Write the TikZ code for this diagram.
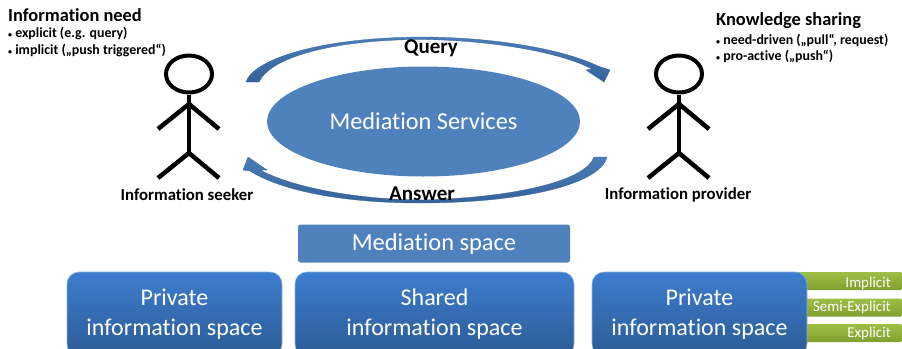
\documentclass[tikz,border=0pt]{standalone}
\usepackage{fontspec}
\setmainfont[Ligatures=NoCommon]{Carlito}
\usetikzlibrary{shapes.geometric}
\definecolor{mediationblue}{HTML}{4F81BD}
\definecolor{spacetop}{HTML}{3D7DCE}
\definecolor{spacebot}{HTML}{2C5B96}
\definecolor{greentop}{HTML}{9DBF45}
\definecolor{greenbot}{HTML}{7FA02E}
\definecolor{arrowtop}{HTML}{4A7DB8}
\definecolor{arrowbot}{HTML}{35639A}
\newcommand{\smallbullet}{{\fontsize{8}{8}\selectfont•}}
\tikzset{
	spacebox/.style={draw=spacetop!60!white, line width=0.6pt, rounded corners=12pt, top color=spacetop, bottom color=spacebot, text=white, minimum width=215pt, minimum height=84pt, align=center, font=\fontsize{24}{30.5}\selectfont, inner sep=0pt},
	levelbar/.style={rounded corners=1.5pt, top color=greentop, bottom color=greenbot, minimum width=145pt, minimum height=18pt, inner sep=0pt},
	levellabel/.style={anchor=east, text=white, font=\fontsize{15}{17}\selectfont, inner sep=0pt},
	headline/.style={anchor=west, font=\fontsize{18.4}{20}\selectfont\bfseries, inner sep=0pt},
	bulletline/.style={anchor=west, font=\fontsize{13.9}{15}\selectfont\bfseries, inner sep=0pt},
	rolelabel/.style={font=\fontsize{16.8}{18}\selectfont\bfseries, inner sep=0pt},
	flowlabel/.style={font=\fontsize{21}{23}\selectfont\bfseries, inner sep=0pt},
	flowband/.style={top color=arrowtop, bottom color=arrowbot, draw=arrowbot, line width=0.3pt},
	stickhead/.style={ellipse, draw, line width=4pt, minimum width=46pt, minimum height=37pt, inner sep=0pt},
	stick/.style={line width=4.5pt, line cap=butt, line join=miter}
}
\begin{document}
\begin{tikzpicture}[x=1pt, y=-1pt, line join=round]
	\useasboundingbox (0,0) rectangle (902,348);
	\node[levelbar] (implicitbar) at (829.5,281){};
	\node[levelbar] (semibar) at (829.5,307.5){};
	\node[levelbar] (explicitbar) at (829.5,333){};
	\path
	(891,283)node[levellabel]{Implicit}
	(891,307.5)node[levellabel]{Semi-Explicit}
	(891,333.5)node[levellabel]{Explicit}
	;
	\node[spacebox] (privateleft) at (174.5,314){Private\\information space};
	\node[spacebox, minimum width=279pt] (shared) at (434.5,314){Shared\\information space};
	\node[spacebox] (privateright) at (699.5,314){Private\\information space};
	\node[rounded corners=2.5pt, fill=mediationblue, text=white, minimum width=272pt, minimum height=38pt, inner sep=0pt, font=\fontsize{24.4}{26}\selectfont] (mediationspace) at (434,243.5){Mediation space};
	\node[ellipse, fill=mediationblue, text=white, minimum width=313pt, minimum height=110pt, inner sep=0pt, font=\fontsize{24.3}{26}\selectfont] (services) at (423.5,121.5){Mediation Services};
	% query and answer bands
	\draw[flowband]
	(246,82) .. controls (252,62) and (310,38) .. (420,37) .. controls (490,37) and (560,48) .. (598,66)
	-- (610,70) -- (604,82) -- (586,70) -- (592,69)
	.. controls (560,52) and (490,40) .. (420,39.5) .. controls (330,40) and (270,58) .. (259,82) -- cycle;
	\draw[flowband]
	(607,157) .. controls (600,185) and (520,203) .. (420,203) .. controls (340,203) and (280,190) .. (250,171)
	-- (243,170) -- (248,157) -- (267,170) -- (260,170)
	.. controls (290,186) and (350,199) .. (420,200) .. controls (510,198) and (585,182) .. (594,157) -- cycle;
	\path
	(431,48)node[flowlabel]{Query}
	(422,194)node[flowlabel]{Answer}
	(187,195)node[rolelabel]{Information seeker}
	(678,195)node[rolelabel]{Information provider}
	(8,15)node[headline]{Information need}
	(8,34)node[bulletline]{\smallbullet\ explicit (e.g. query)}
	(8,51)node[bulletline]{\smallbullet\ implicit („push triggered“)}
	(716,21)node[headline]{Knowledge sharing}
	(716,40)node[bulletline]{\smallbullet\ need-driven („pull“, request)}
	(716,56)node[bulletline]{\smallbullet\ pro-active („push“)}
	;
	% left figure
	\node[stickhead] (seekerhead) at (189,74){};
	\coordinate (seekerneck) at (189,104);
	\coordinate (seekerhip) at (189,153);
	\draw[stick] (seekerhead.south)--(seekerhip);
	\draw[stick] (158,129)--(seekerneck)--(219,129);
	\draw[stick] (158,178)--(seekerhip)--(219,178);
	% right figure
	\node[stickhead] (providerhead) at (679,74){};
	\coordinate (providerneck) at (679,104);
	\coordinate (providerhip) at (679,153);
	\draw[stick] (providerhead.south)--(providerhip);
	\draw[stick] (648,129)--(providerneck)--(709,129);
	\draw[stick] (648,178)--(providerhip)--(709,178);
\end{tikzpicture}
\end{document}
